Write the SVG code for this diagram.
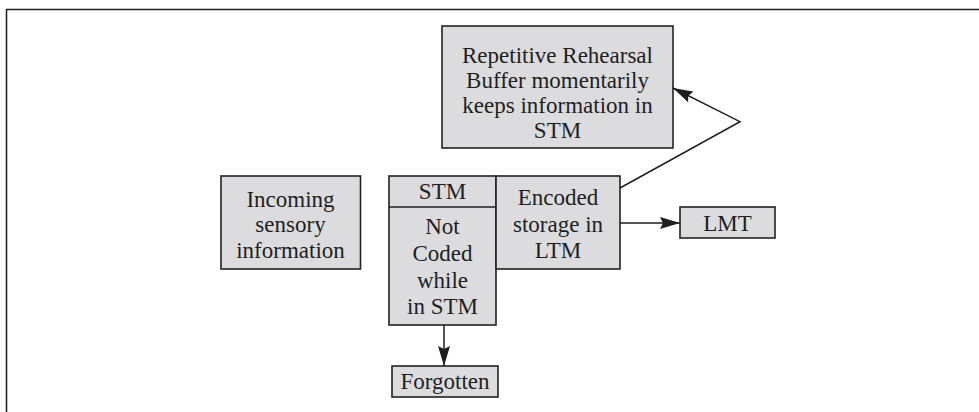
<svg xmlns="http://www.w3.org/2000/svg" width="979" height="412" viewBox="0 0 979 412">
  <style>
    .box { fill: #dcdcde; stroke: #222; stroke-width: 1.6; }
    .lbl { font-family: "Liberation Serif", "Times New Roman", serif; font-size: 23px; fill: #1e1e1e; text-anchor: middle; }
    .edge { fill: none; stroke: #1e1e1e; stroke-width: 1.5; }
    .frame { fill: none; stroke: #222; stroke-width: 1.6; }
  </style>
  <defs>
    <marker id="arrow" viewBox="0 0 20 12" refX="20" refY="6" markerWidth="20" markerHeight="12" markerUnits="userSpaceOnUse" orient="auto">
      <path d="M0,0 L20,6 L0,12 L3,6 Z" fill="#1e1e1e"/>
    </marker>
  </defs>
  <rect width="979" height="412" fill="#ffffff"/>

  <!-- outer frame: top and left edges -->
  <path class="frame" d="M6.5,412 V9.5 H979"/>

  <g id="rehearsal">
    <rect class="box" x="442" y="26" width="231" height="122"/>
    <text class="lbl" x="557.5" y="63">Repetitive Rehearsal</text>
    <text class="lbl" x="557.5" y="88">Buffer momentarily</text>
    <text class="lbl" x="557.5" y="113">keeps information in</text>
    <text class="lbl" x="557.5" y="138">STM</text>
  </g>

  <g id="incoming">
    <rect class="box" x="221" y="176" width="139.5" height="93"/>
    <text class="lbl" x="290.5" y="206.5">Incoming</text>
    <text class="lbl" x="290.5" y="232">sensory</text>
    <text class="lbl" x="290.5" y="257.5">information</text>
  </g>

  <g id="stm">
    <rect class="box" x="389" y="176" width="107" height="149"/>
    <line class="edge" x1="389" y1="207" x2="496" y2="207" stroke-width="1.6"/>
    <text class="lbl" x="442.5" y="199">STM</text>
    <text class="lbl" x="442.5" y="234">Not</text>
    <text class="lbl" x="442.5" y="261">Coded</text>
    <text class="lbl" x="442.5" y="288">while</text>
    <text class="lbl" x="442.5" y="314">in STM</text>
  </g>

  <g id="encoded">
    <rect class="box" x="496" y="176" width="124" height="93"/>
    <text class="lbl" x="558" y="205">Encoded</text>
    <text class="lbl" x="558" y="231.5">storage in</text>
    <text class="lbl" x="558" y="257.5">LTM</text>
  </g>

  <g id="lmt">
    <rect class="box" x="680" y="207" width="95" height="31"/>
    <text class="lbl" x="727.5" y="230.5">LMT</text>
  </g>

  <g id="forgotten">
    <rect class="box" x="392" y="366" width="106" height="31"/>
    <text class="lbl" x="445" y="389">Forgotten</text>
  </g>

  <g id="connectors">
    <path class="edge" d="M620,188 L740,121.7 L673,88" marker-end="url(#arrow)"/>
    <path class="edge" d="M620,223 L680,223" marker-end="url(#arrow)"/>
    <path class="edge" d="M444,325 L444,366" marker-end="url(#arrow)"/>
  </g>
</svg>
